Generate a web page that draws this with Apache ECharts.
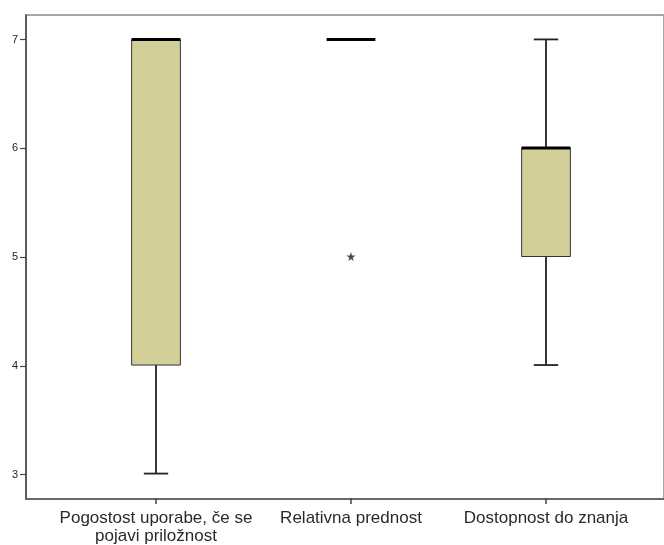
<!DOCTYPE html>
<html>
<head>
<meta charset="utf-8">
<style>
  html, body { margin: 0; padding: 0; background: #fff; }
  #chart { width: 664px; height: 545px; }
</style>
<script src="https://cdn.jsdelivr.net/npm/echarts@6/dist/echarts.min.js"></script>
</head>
<body>
<div id="chart"></div>
<script>
// Box plot summaries per item
const categories = ['Pogostost uporabe, če se\npojavi priložnost', 'Relativna prednost', 'Dostopnost do znanja'];
const minValues = [3, 7, 4];
const q1Values = [4, 7, 5];
const medianValues = [7, 7, 6];
const q3Values = [7, 7, 6];
const maxValues = [7, 7, 7];
// Extreme values: [category index, value]
const extremes = [[1, 5]];
const yTicks = [3, 4, 5, 6, 7];
const yMin = 2.775;
const yMax = 7.225;

const boxRows = categories.map((c, i) => [i, minValues[i], q1Values[i], medianValues[i], q3Values[i], maxValues[i]]);

const FILL = '#d3cf98';
const EDGE = '#333';

function renderBox(params, api) {
  const idx = api.value(0);
  const lo = api.value(1), q1 = api.value(2), med = api.value(3), q3 = api.value(4), hi = api.value(5);
  const band = api.size([1, 0])[0];
  const boxW = band * 0.25;
  const capW = band * 0.125;
  const x = api.coord([idx, med])[0];
  const yOf = v => api.coord([idx, v])[1];
  const children = [];
  const lineStyle = { stroke: '#222', lineWidth: 1.8 };
  if (lo < q1) {
    children.push({ type: 'line', shape: { x1: x, y1: yOf(q1), x2: x, y2: yOf(lo) }, style: lineStyle });
    children.push({ type: 'line', shape: { x1: x - capW / 2, y1: yOf(lo), x2: x + capW / 2, y2: yOf(lo) }, style: lineStyle });
  }
  if (hi > q3) {
    children.push({ type: 'line', shape: { x1: x, y1: yOf(q3), x2: x, y2: yOf(hi) }, style: lineStyle });
    children.push({ type: 'line', shape: { x1: x - capW / 2, y1: yOf(hi), x2: x + capW / 2, y2: yOf(hi) }, style: lineStyle });
  }
  if (q3 > q1) {
    children.push({
      type: 'rect',
      shape: { x: x - boxW / 2, y: yOf(q3), width: boxW, height: yOf(q1) - yOf(q3) },
      style: { fill: FILL, stroke: EDGE, lineWidth: 1 }
    });
  }
  children.push({
    type: 'line',
    shape: { x1: x - boxW / 2, y1: yOf(med), x2: x + boxW / 2, y2: yOf(med) },
    style: { stroke: '#000', lineWidth: 3 }
  });
  return { type: 'group', children };
}

const chart = echarts.init(document.getElementById('chart'), null, { renderer: 'canvas' });
chart.setOption({
  animation: false,
  backgroundColor: '#fff',
  grid: [
    { left: 26, right: -10, top: 15, bottom: 46, show: true, borderColor: '#8a8a8a', borderWidth: 1.5, backgroundColor: 'transparent' },
    { left: 58.5, right: 20.5, top: 15, bottom: 46 }
  ],
  xAxis: [
    {
      type: 'value', gridIndex: 0, min: 0, max: 1,
      axisLine: { show: true, lineStyle: { color: '#555', width: 1.5 } },
      axisTick: { show: false }, axisLabel: { show: false }, splitLine: { show: false }
    },
    {
      type: 'category', gridIndex: 1, data: categories, boundaryGap: true,
      axisLine: { show: false },
      axisTick: { show: true, alignWithLabel: true, length: 6, lineStyle: { color: '#444', width: 1.5 } },
      axisLabel: { color: '#2a2a2a', fontSize: 17, lineHeight: 18, margin: 11, fontFamily: 'Liberation Sans, Arial, sans-serif', interval: 0 },
      splitLine: { show: false }
    }
  ],
  yAxis: [
    {
      type: 'value', gridIndex: 0, min: yMin, max: yMax,
      axisLine: { show: true, lineStyle: { color: '#444', width: 1.5 } },
      axisTick: { show: true, length: 6, customValues: yTicks, lineStyle: { color: '#444', width: 1.2 } },
      axisLabel: { show: true, customValues: yTicks, color: '#222', fontSize: 11, margin: 8, fontFamily: 'Liberation Sans, Arial, sans-serif' },
      splitLine: { show: false }
    },
    {
      type: 'value', gridIndex: 1, min: yMin, max: yMax, show: false
    }
  ],
  series: [
    {
      type: 'custom', xAxisIndex: 1, yAxisIndex: 1,
      renderItem: renderBox,
      encode: { x: 0, y: [1, 2, 3, 4, 5] },
      data: boxRows,
      z: 3
    },
    {
      type: 'scatter', xAxisIndex: 1, yAxisIndex: 1,
      symbol: 'path://M50,0 L61,35 L98,35 L68,57 L79,91 L50,70 L21,91 L32,57 L2,35 L39,35 Z',
      symbolSize: 9,
      itemStyle: { color: '#1a1a1a' },
      data: extremes,
      z: 4
    }
  ]
});
</script>
</body>
</html>
